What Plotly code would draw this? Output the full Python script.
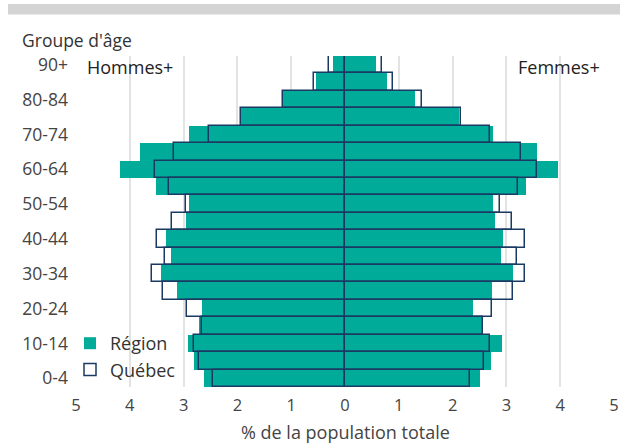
import plotly.graph_objects as go

ages = ["0-4", "5-9", "10-14", "15-19", "20-24", "25-29", "30-34", "35-39", "40-44",
        "45-49", "50-54", "55-59", "60-64", "65-69", "70-74", "75-79", "80-84", "85-89", "90+"]

region_hommes = [2.63, 2.81, 2.91, 2.71, 2.65, 3.13, 3.42, 3.23, 3.33,
                 2.96, 2.90, 3.51, 4.19, 3.81, 2.90, 1.93, 1.15, 0.54, 0.22]
region_femmes = [2.51, 2.71, 2.91, 2.57, 2.37, 2.74, 3.12, 2.90, 2.94,
                 2.79, 2.76, 3.36, 3.95, 3.56, 2.76, 2.11, 1.31, 0.78, 0.57]
quebec_hommes = [2.45, 2.72, 2.81, 2.65, 2.94, 3.39, 3.59, 3.34, 3.50,
                 3.22, 2.96, 3.27, 3.53, 3.17, 2.52, 1.93, 1.15, 0.57, 0.29]
quebec_femmes = [2.32, 2.59, 2.70, 2.56, 2.74, 3.12, 3.35, 3.19, 3.35,
                 3.10, 2.88, 3.21, 3.56, 3.28, 2.70, 2.16, 1.43, 0.89, 0.69]

x_ticks = [-5, -4, -3, -2, -1, 0, 1, 2, 3, 4, 5]
x_ticktext = [str(abs(v)) for v in x_ticks]
y_ticks = ages[::2]

TEAL = "#00ab9a"
NAVY = "#1b3a63"
FONT = "Open Sans"

# pixel helpers for layout placement (plot area: x 76..614, y 56..387)
def px(x):
    return (x - 76) / 538

def py(y):
    return (387 - y) / 331

fig = go.Figure()
fig.add_trace(go.Bar(y=ages, x=[-v for v in region_hommes], orientation="h",
                     name="Région", legendgroup="r", marker=dict(color=TEAL, line=dict(width=0))))
fig.add_trace(go.Bar(y=ages, x=region_femmes, orientation="h", showlegend=False,
                     name="Région", legendgroup="r", marker=dict(color=TEAL, line=dict(width=0))))
fig.add_trace(go.Bar(y=ages, x=[-v for v in quebec_hommes], orientation="h",
                     name="Québec", legendgroup="q",
                     marker=dict(color="rgba(0,0,0,0)", line=dict(color=NAVY, width=1.5))))
fig.add_trace(go.Bar(y=ages, x=quebec_femmes, orientation="h", showlegend=False,
                     name="Québec", legendgroup="q",
                     marker=dict(color="rgba(0,0,0,0)", line=dict(color=NAVY, width=1.5))))

white_boxes = [
    (80, 180, 56, 91),     # behind "Hommes+"
    (512, 610, 56, 91),    # behind "Femmes+"
    (80, 176, 322, 387),   # behind legend
]
shapes = [dict(type="rect", xref="paper", yref="paper",
               x0=px(8), x1=px(620), y0=py(14.5), y1=py(4),
               fillcolor="#d4d4d4", line=dict(width=0), layer="above")]
for x0, x1, y0, y1 in white_boxes:
    shapes.append(dict(type="rect", xref="paper", yref="paper",
                       x0=px(x0), x1=px(x1), y0=py(y1), y1=py(y0),
                       fillcolor="white", line=dict(width=0), layer="between"))

fig.update_layout(
    width=620, height=446,
    margin=dict(l=76, r=6, t=56, b=59, autoexpand=False),
    paper_bgcolor="white", plot_bgcolor="white",
    barmode="overlay", bargap=0,
    font=dict(family=FONT, size=16, color="#444"),
    showlegend=True,
    legend=dict(x=px(70), y=py(325), xanchor="left", yanchor="top", bgcolor="rgba(0,0,0,0)",
                font=dict(size=18, color="#333"), traceorder="normal",
                itemwidth=30, tracegroupgap=0),
    xaxis=dict(range=[-5, 5], tickvals=x_ticks, ticktext=x_ticktext, automargin=False,
               showgrid=True, gridcolor="#e3e3e3", gridwidth=1.5, zeroline=False,
               showline=False, ticks="", tickfont=dict(size=16.5), ticklabelstandoff=6),
    yaxis=dict(type="category", categoryorder="array", categoryarray=ages, automargin=False,
               range=[-0.5, 18.5], tickvals=y_ticks, showgrid=False, zeroline=False,
               showline=False, ticks="", ticklabelstandoff=7, tickfont=dict(size=17.5)),
    shapes=shapes,
    annotations=[
        dict(text="Groupe d'âge", xref="paper", yref="paper", x=px(20), y=py(40),
             xanchor="left", yanchor="middle", showarrow=False, font=dict(size=17.5, color="#333")),
        dict(text="Hommes+", xref="paper", yref="paper", x=px(85), y=py(67),
             xanchor="left", yanchor="middle", showarrow=False, font=dict(size=18, color="#222")),
        dict(text="Femmes+", xref="paper", yref="paper", x=px(602), y=py(67),
             xanchor="right", yanchor="middle", showarrow=False, font=dict(size=18, color="#222")),
        dict(text="% de la population totale", xref="paper", yref="paper", x=px(345), y=py(446),
             xanchor="center", yanchor="bottom", showarrow=False, font=dict(size=18, color="#444")),
    ],
)

fig.write_html("out.html", config={"displayModeBar": False},
               post_script="document.body.style.margin='0';document.body.style.overflow='hidden';")
